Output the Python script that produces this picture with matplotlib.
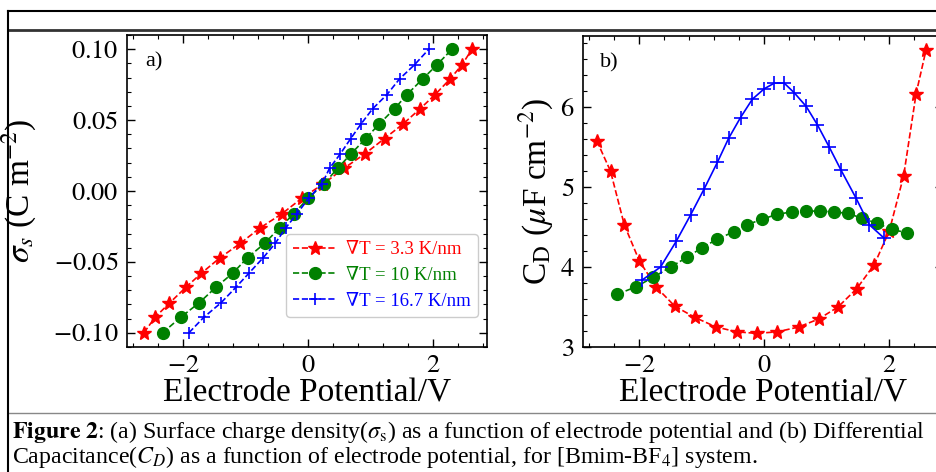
"""Surface charge density and differential capacitance vs electrode potential."""

import matplotlib

matplotlib.use("Agg")
import matplotlib.pyplot as plt
from matplotlib.lines import Line2D
from matplotlib.ticker import AutoMinorLocator, FuncFormatter

plt.rcParams["font.family"] = ["Liberation Serif", "DejaVu Serif"]
plt.rcParams["mathtext.fontset"] = "stix"

# ---- panel a) sigma_s vs potential (same sigma levels for all series)
sigma = [-0.100, -0.089, -0.079, -0.068, -0.058, -0.047, -0.037, -0.026, -0.016, -0.005,
         0.005, 0.016, 0.026, 0.037, 0.047, 0.058, 0.068, 0.079, 0.089, 0.100]
pot_33 = [-2.63, -2.45, -2.22, -1.96, -1.71, -1.41, -1.09, -0.77, -0.42, -0.10,
          0.24, 0.57, 0.90, 1.22, 1.51, 1.79, 2.03, 2.27, 2.46, 2.62]
pot_10 = [-2.33, -2.04, -1.75, -1.48, -1.21, -0.97, -0.70, -0.46, -0.23, 0.00,
          0.25, 0.47, 0.68, 0.92, 1.13, 1.38, 1.58, 1.83, 2.06, 2.30]
pot_167 = [-1.91, -1.67, -1.40, -1.16, -0.95, -0.72, -0.53, -0.36, -0.18, 0.01,
           0.22, 0.34, 0.51, 0.68, 0.84, 1.03, 1.26, 1.46, 1.70, 1.93]

# ---- panel b) C_D vs potential
cd_x_33 = [-2.68, -2.46, -2.24, -2.00, -1.73, -1.43, -1.11, -0.77, -0.44, -0.12,
           0.21, 0.55, 0.87, 1.18, 1.48, 1.76, 2.00, 2.23, 2.43, 2.59]
cd_33 = [5.58, 5.20, 4.53, 4.08, 3.75, 3.51, 3.37, 3.25, 3.19, 3.17,
         3.19, 3.25, 3.35, 3.50, 3.73, 4.03, 4.45, 5.14, 6.17, 6.72]
cd_x_10 = [-2.35, -2.06, -1.78, -1.50, -1.24, -1.00, -0.75, -0.49, -0.27, -0.03,
           0.21, 0.44, 0.67, 0.89, 1.12, 1.34, 1.57, 1.80, 2.04, 2.28]
cd_10 = [3.66, 3.75, 3.87, 4.00, 4.12, 4.24, 4.35, 4.44, 4.53, 4.60,
         4.66, 4.69, 4.70, 4.70, 4.69, 4.67, 4.61, 4.55, 4.47, 4.43]
cd_x_167 = [-1.95, -1.66, -1.41, -1.18, -0.96, -0.75, -0.57, -0.38, -0.19, 0.00,
            0.16, 0.32, 0.48, 0.67, 0.85, 1.04, 1.23, 1.47, 1.68, 1.92]
cd_167 = [3.84, 4.00, 4.32, 4.65, 4.98, 5.31, 5.61, 5.87, 6.10, 6.23,
          6.30, 6.30, 6.18, 6.01, 5.78, 5.50, 5.21, 4.86, 4.53, 4.36]

legend_labels = ["∇T = 3.3 K/nm", "∇T = 10 K/nm", "∇T = 16.7 K/nm"]
caption_1 = (r"$\mathbf{Figure\ 2}$: (a) Surface charge density($\sigma_{\rm s}$) as a "
             "function of electrode potential and (b) Differential")
caption_2 = (r"Capacitance($C_D$) as a function of electrode potential, "
             r"for [Bmim-BF$_4$] system.")

W, H = 936, 472
fig = plt.figure(figsize=(W / 100, H / 100), dpi=100)


def px(x0, y0, x1, y1):
    return [x0 / W, 1 - y1 / H, (x1 - x0) / W, (y1 - y0) / H]


ax1 = fig.add_axes(px(127, 35, 487, 347))
ax2 = fig.add_axes(px(583, 36, 943, 347))

ax1.plot(pot_33, sigma, "--", color="red", marker="*", ms=10, lw=1.2,
         label=legend_labels[0])
ax1.plot(pot_10, sigma, "--", color="green", marker="o", ms=8.5, lw=1.2,
         label=legend_labels[1])
ax1.plot(pot_167, sigma, "--", color="blue", marker="+", ms=9, mew=1.2, lw=1.2,
         label=legend_labels[2])

ax2.plot(cd_x_33, cd_33, "--", color="red", marker="*", ms=10, lw=1.2)
ax2.plot(cd_x_10, cd_10, "--", color="green", marker="o", ms=8.5, lw=1.2)
ax2.plot(cd_x_167, cd_167, "-", color="blue", marker="+", ms=10, mew=1.2, lw=1.2)

int_fmt = FuncFormatter(lambda v, p: f"${v:.0f}$")
for ax in (ax1, ax2):
    ax.set_xlim(-2.9, 2.86)
    ax.set_xticks([-2, 0, 2])
    ax.xaxis.set_major_formatter(int_fmt)
    ax.xaxis.set_minor_locator(AutoMinorLocator(5))
    ax.yaxis.set_minor_locator(AutoMinorLocator(5))
    ax.tick_params(which="both", direction="in", top=True, right=True,
                   labelsize=19, pad=6)
    ax.tick_params(which="major", length=6, width=1)
    ax.tick_params(which="minor", length=3, width=0.8)
    for s in ax.spines.values():
        s.set_linewidth(1.2)
    ax.set_xlabel("Electrode Potential/V", fontsize=24, labelpad=0)

ax1.set_ylim(-0.11, 0.11)
ax1.set_yticks([-0.10, -0.05, 0.0, 0.05, 0.10])
ax1.yaxis.set_major_formatter(FuncFormatter(lambda v, p: f"${v:.2f}$"))
ax1.set_ylabel(r"$\sigma_s$ (C m$^{-2}$)", fontsize=24, labelpad=10)
ax1.text(0.05, 0.945, "a)", transform=ax1.transAxes, fontsize=16, va="top")

ax2.set_ylim(3, 6.89)
ax2.set_yticks([3, 4, 5, 6])
ax2.yaxis.set_major_formatter(int_fmt)
ax2.set_ylabel(r"C$_{\rm D}$ ($\mu$F cm$^{-2}$)", fontsize=24, labelpad=3)
ax2.text(0.047, 0.945, "b)", transform=ax2.transAxes, fontsize=16, va="top")

leg = ax1.legend(loc="lower right", bbox_to_anchor=(0.975, 0.096), borderaxespad=0,
                 fontsize=13.5, handlelength=2.3, handletextpad=0.5,
                 labelspacing=0.45, framealpha=1, edgecolor="#cccccc")
for t, c in zip(leg.get_texts(), ["red", "green", "blue"]):
    t.set_color(c)


# table borders around the figure in the document
def hline(y, x0, x1, lw, color="black"):
    fig.add_artist(Line2D([x0 / W, x1 / W], [1 - y / H, 1 - y / H],
                          color=color, lw=lw, transform=fig.transFigure))


hline(11, 8, W, 1.5)
hline(29.5, 8, W, 2.0, "#333333")
hline(413, 8, W, 1.0, "#888888")
fig.add_artist(Line2D([8 / W, 8 / W], [0, 1 - 11 / H], color="black", lw=1.5,
                      transform=fig.transFigure))

fig.text(12 / W, 1 - 438 / H, caption_1, fontsize=17.2, va="baseline")
fig.text(12 / W, 1 - 463 / H, caption_2, fontsize=17.2, va="baseline")

fig.savefig("out.png", dpi=100)
